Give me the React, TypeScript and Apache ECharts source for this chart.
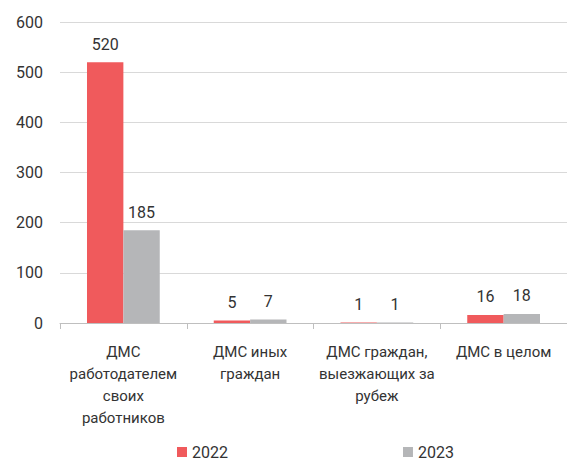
import React, { useEffect, useRef } from "react";
import * as echarts from "echarts";

const categories = [
  "ДМС\nработодателем\nсвоих\nработников",
  "ДМС иных\nграждан",
  "ДМС граждан,\nвыезжающих за\nрубеж",
  "ДМС в целом",
];
const seriesNames = ["2022", "2023"];
const values2022 = [520, 5, 1, 16];
const values2023 = [185, 7, 1, 18];
const yTicks = { min: 0, max: 600, interval: 100 };

const FONT = "Roboto, 'Noto Sans', sans-serif";

export default function App() {
  const ref = useRef<HTMLDivElement>(null);
  useEffect(() => {
    if (!ref.current) return;
    const chart = echarts.init(ref.current, null, { renderer: "svg" });
    const label = {
      show: true,
      position: "top" as const,
      distance: 10,
      color: "#333333",
      fontSize: 16,
      fontFamily: FONT,
    };
    chart.setOption({
      animation: false,
      textStyle: { fontFamily: FONT },
      grid: { left: 60, right: -2, top: 22, bottom: 138 },
      legend: {
        top: 444,
        left: 177,
        padding: 0,
        itemWidth: 10,
        itemHeight: 10,
        itemGap: 175,
        icon: "rect",
        textStyle: { fontSize: 16, color: "#333333", fontFamily: FONT },
        data: seriesNames,
      },
      xAxis: {
        type: "category",
        data: categories,
        axisLine: { lineStyle: { color: "#bfbfbf" } },
        axisTick: { show: true, length: 6, lineStyle: { color: "#bfbfbf" } },
        axisLabel: {
          interval: 0,
          margin: 18,
          fontSize: 15,
          lineHeight: 22,
          color: "#333333",
          fontFamily: FONT,
        },
      },
      yAxis: {
        type: "value",
        min: yTicks.min,
        max: yTicks.max,
        interval: yTicks.interval,
        axisLine: { show: false },
        axisTick: { show: false },
        splitLine: { lineStyle: { color: "#d9d9d9" } },
        axisLabel: {
          fontSize: 16,
          color: "#333333",
          margin: 17,
          fontFamily: FONT,
        },
      },
      series: [
        {
          name: seriesNames[0],
          type: "bar",
          data: values2022,
          barWidth: "28.7%",
          barGap: "0%",
          itemStyle: { color: "#F05A5C" },
          label,
        },
        {
          name: seriesNames[1],
          type: "bar",
          data: values2023,
          barWidth: "28.7%",
          barGap: "0%",
          itemStyle: { color: "#B5B6B8" },
          label,
        },
      ],
    });
    return () => chart.dispose();
  }, []);
  return (
    <div
      ref={ref}
      style={{ position: "absolute", left: 0, top: 0, width: 567, height: 461 }}
    />
  );
}
